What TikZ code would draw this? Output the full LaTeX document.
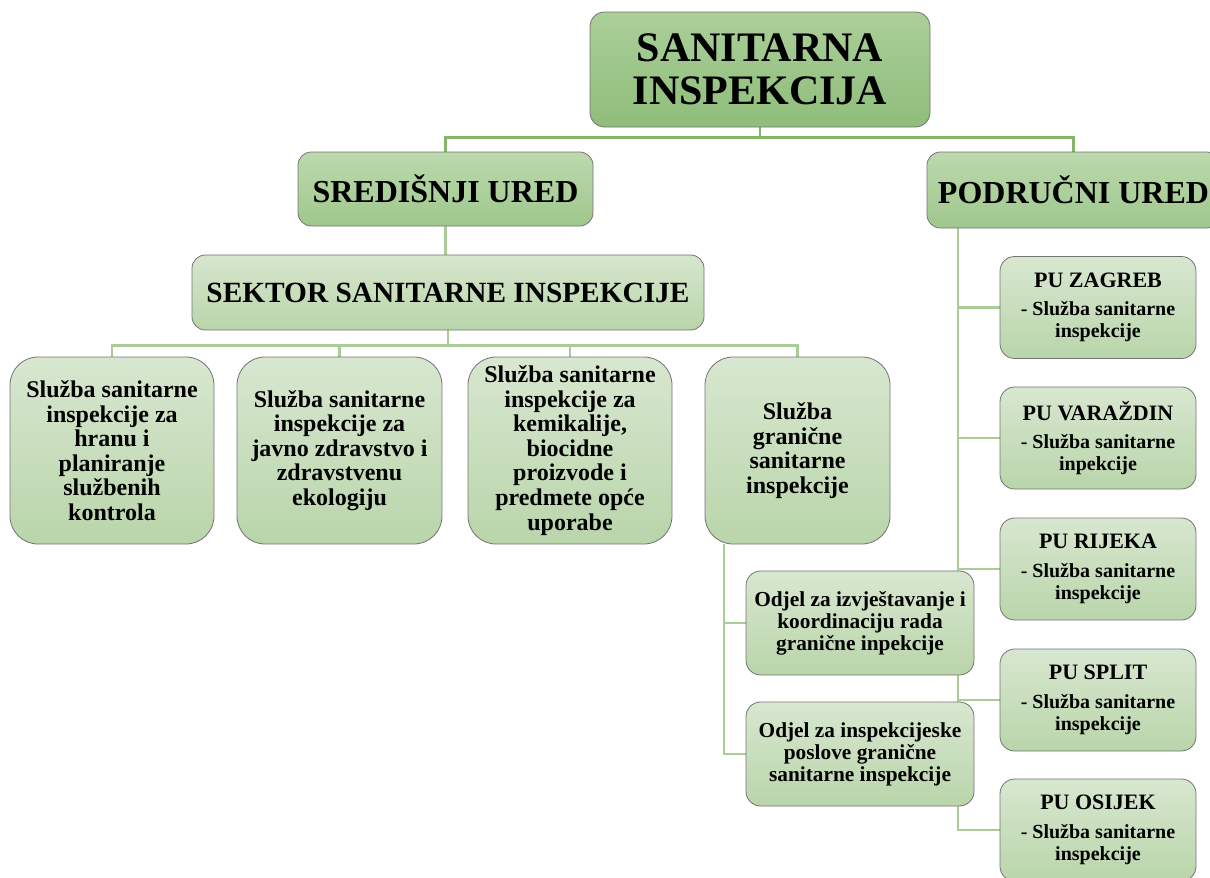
\documentclass[tikz,border=0pt]{standalone}
\usepackage{fontspec}
\setmainfont{Liberation Serif}
\usetikzlibrary{positioning,backgrounds}

\definecolor{lineDark}{HTML}{84B666}
\definecolor{lineLight}{HTML}{AACD98}
\definecolor{topA}{HTML}{ABCF99}
\definecolor{topB}{HTML}{8FBD7B}
\definecolor{midA}{HTML}{BCD9AE}
\definecolor{midB}{HTML}{9FC78C}
\definecolor{lowA}{HTML}{D8E7D0}
\definecolor{lowB}{HTML}{B9D5AA}

\newcommand{\putitle}[1]{{\fontsize{16.5}{17}\selectfont #1}}

\tikzset{
  boxbase/.style={draw=black!55, line width=0.6pt, align=center, font=\bfseries, inner sep=2pt},
  headbox/.style={boxbase, rounded corners=11pt, top color=topA, bottom color=topB},
  officebox/.style={boxbase, rounded corners=10pt, top color=midA, bottom color=midB},
  sectorbox/.style={boxbase, rounded corners=10pt, top color=lowA!95!midA, bottom color=lowB},
  servicebox/.style={boxbase, rounded corners=21pt, top color=lowA, bottom color=lowB,
    minimum width=153pt, minimum height=140.25pt, font=\bfseries\fontsize{18}{18.4}\selectfont},
  deptbox/.style={boxbase, rounded corners=11pt, top color=lowA, bottom color=lowB,
    minimum width=171pt, minimum height=78pt, font=\bfseries\fontsize{16}{16.4}\selectfont},
  pubox/.style={boxbase, rounded corners=11pt, top color=lowA, bottom color=lowB,
    minimum width=147pt, minimum height=76.5pt, font=\bfseries\fontsize{15}{16.5}\selectfont},
  topline/.style={draw=lineDark, line width=2.2pt},
  subline/.style={draw=lineLight, line width=1.9pt}
}

\begin{document}
\begin{tikzpicture}[x=0.75pt,y=0.75pt,yscale=-1,xscale=1]
        \useasboundingbox (0,0) rectangle (1210,878);
        % Top level
        \node[headbox, minimum width=255pt, minimum height=86.25pt, font=\bfseries\fontsize{31.5}{32.5}\selectfont] (top) at (760,69.5) {SANITARNA\\INSPEKCIJA};
        % Offices
        \node[officebox, minimum width=221.25pt, minimum height=55.5pt, font=\bfseries\fontsize{24}{26}\selectfont] (sred) at (445.5,189) {SREDIŠNJI URED};
        \node[officebox, minimum width=219.75pt, minimum height=57pt, font=\bfseries\fontsize{24}{26}\selectfont] (podr) at (1073.5,190) {PODRUČNI URED};
        % Sector
        \node[sectorbox, minimum width=384pt, minimum height=56.25pt, font=\bfseries\fontsize{22}{24}\selectfont] (sektor) at (448,292.5) {SEKTOR SANITARNE INSPEKCIJE};
        % Services
        \node[servicebox] (hrana) at (112,450.5) {Služba sanitarne\\inspekcije za\\hranu i\\planiranje\\službenih\\kontrola};
        \node[servicebox, minimum width=153.75pt] (javno) at (339.5,450.5) {Služba sanitarne\\inspekcije za\\javno zdravstvo i\\zdravstvenu\\ekologiju};
        \node[servicebox] (kemija) at (570,450.5) {Služba sanitarne\\inspekcije za\\kemikalije,\\biocidne\\proizvode i\\predmete opće\\uporabe};
        \node[servicebox, minimum width=138.75pt] (granica) at (797.5,450.5) {Služba\\granične\\sanitarne\\inspekcije};
        % Departments
        \node[deptbox] (odjA) at (860,623) {Odjel za izvještavanje i\\koordinaciju rada\\granične inpekcije};
        \node[deptbox] (odjB) at (860,754) {Odjel za inspekcijeske\\poslove granične\\sanitarne inspekcije};
        % Regional units
        \node[pubox] (zagreb) at (1098,307.5) {\putitle{PU ZAGREB}\\[5pt]- Služba sanitarne\\inspekcije};
        \node[pubox] (varazdin) at (1098,438) {\putitle{PU VARAŽDIN}\\[5pt]- Služba sanitarne\\inpekcije};
        \node[pubox] (rijeka) at (1098,569) {\putitle{PU RIJEKA}\\[5pt]- Služba sanitarne\\inspekcije};
        \node[pubox] (split) at (1098,700) {\putitle{PU SPLIT}\\[5pt]- Služba sanitarne\\inspekcije};
        \node[pubox] (osijek) at (1098,830) {\putitle{PU OSIJEK}\\[5pt]- Služba sanitarne\\inspekcije};

        \begin{scope}[on background layer]
        % Connectors
        \draw[topline] (top.south) -- ++(0,10) -| (sred.north);
        \draw[topline] (top.south) -- ++(0,10) -| (podr.north);
        \draw[subline] (sred.south) -- (sred.south |- sektor.north);
        \foreach \s in {hrana,javno,kemija,granica}
          \draw[subline] (sektor.south) -- ++(0,15) -| (\s.north);
        \foreach \d in {odjA,odjB}
          \draw[subline] (granica.south) ++(-73.5,0) |- (\d.west);
        \foreach \p in {zagreb,varazdin,rijeka,split,osijek}
          \draw[subline] (podr.south) ++(-115.5,0) |- (\p.west);
        \end{scope}
    \end{tikzpicture}
\end{document}
